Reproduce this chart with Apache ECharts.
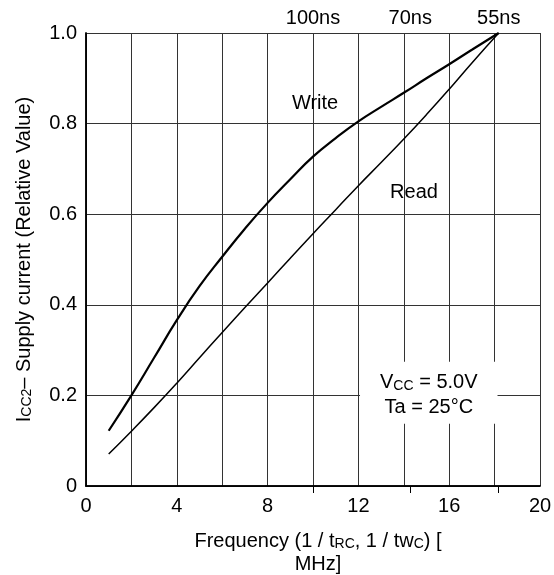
<!DOCTYPE html>
<html>
<head>
<meta charset="utf-8">
<script src="https://cdn.jsdelivr.net/npm/echarts@6/dist/echarts.min.js"></script>
<style>
html,body{margin:0;padding:0;background:#fff;}
#chart{width:554px;height:575px;}
</style>
</head>
<body>
<div id="chart"></div>
<script>
// Frequency (MHz)
const freq = [1, 2, 3, 4, 5, 6, 7, 8, 9, 10, 11, 12, 13, 14, 15, 16, 17, 18.18];
// Write curve (relative Icc2)
const writeVals = [0.122, 0.200, 0.283, 0.366, 0.441, 0.506, 0.568, 0.625, 0.677, 0.727, 0.768, 0.805, 0.837, 0.868, 0.900, 0.931, 0.963, 1.0];
// Read curve (relative Icc2)
const readVals = [0.0706, 0.121, 0.173, 0.227, 0.283, 0.339, 0.394, 0.448, 0.503, 0.557, 0.610, 0.663, 0.714, 0.766, 0.820, 0.876, 0.934, 1.0];
// Top axis: cycle times
const cycleNs = [100, 70, 55];
const cycleLabels = ['100ns', '70ns', '55ns'];
// Tick labels
const xTickLabels = [0, 4, 8, 12, 16, 20];
const yTickLabels = ['0', '0.2', '0.4', '0.6', '0.8', '1.0'];

const FONT = '"Liberation Sans", Arial, Helvetica, sans-serif';
const topVals = cycleNs.map(ns => 1000 / ns);

const rich = {
  n: { fontSize: 20, fontFamily: FONT, color: '#000', verticalAlign: 'bottom', textBorderWidth: 0 },
  s: { fontSize: 14, fontFamily: FONT, color: '#000', verticalAlign: 'bottom', textBorderWidth: 0 }
};

const chart = echarts.init(document.getElementById('chart'), null, { renderer: 'canvas' });

const option = {
  animation: false,
  backgroundColor: '#fff',
  grid: { left: 86, top: 33, right: 14, bottom: 89, show: false, containLabel: false, outerBoundsMode: 'none' },
  xAxis: [
    {
      type: 'value', position: 'bottom', min: 0, max: 20, interval: 2,
      axisLine: { show: true, lineStyle: { color: '#000', width: 1.5 } },
      axisTick: { show: false },
      splitLine: { show: true, lineStyle: { color: '#333', width: 1 } },
      axisLabel: {
        fontSize: 20, fontFamily: FONT, color: '#000', margin: 10,
        formatter: v => (xTickLabels.indexOf(v) >= 0 ? String(v) : '')
      },
      name: '{n|Frequency (1 / t}{s|RC}{n|, 1 / tw}{s|C}{n|) [}\n{n|MHz]}',
      nameLocation: 'middle', nameGap: 42,
      nameTextStyle: { rich: rich, lineHeight: 23, padding: [0, 0, 0, 10] }
    },
    {
      type: 'value', position: 'top', min: 0, max: 20,
      axisLine: { show: true, lineStyle: { color: '#000', width: 1.5 } },
      axisTick: { show: true, inside: true, length: 7, customValues: topVals, lineStyle: { color: '#000' } },
      splitLine: { show: false },
      axisLabel: {
        show: true, customValues: topVals, fontSize: 20, fontFamily: FONT, color: '#000', margin: 5,
        formatter: v => {
          for (let i = 0; i < topVals.length; i++) if (Math.abs(v - topVals[i]) < 1e-6) return cycleLabels[i];
          return '';
        }
      }
    }
  ],
  yAxis: [
    {
      type: 'value', min: 0, max: 1, interval: 0.2,
      axisLine: { show: true, lineStyle: { color: '#000', width: 1.5 } },
      axisTick: { show: false },
      splitLine: { show: true, lineStyle: { color: '#333', width: 1 } },
      axisLabel: {
        fontSize: 20, fontFamily: FONT, color: '#000', margin: 9,
        formatter: v => yTickLabels[Math.round(v / 0.2)]
      },
      name: '{n|I}{s|CC2}{n|– Supply current (Relative Value)}',
      nameLocation: 'middle', nameGap: 52, nameRotate: 90,
      nameTextStyle: { rich: rich }
    },
    {
      type: 'value', position: 'right', min: 0, max: 1, interval: 0.2,
      axisLine: { show: true, lineStyle: { color: '#000', width: 1.5 } },
      axisTick: { show: false }, axisLabel: { show: false }, splitLine: { show: false }
    }
  ],
  series: [
    {
      name: 'Write', type: 'line', smooth: 0.5, symbol: 'none', xAxisIndex: 0, yAxisIndex: 0,
      lineStyle: { color: '#000', width: 2.2 },
      data: freq.map((f, i) => [f, writeVals[i]]), z: 5
    },
    {
      name: 'Read', type: 'line', smooth: 0.5, symbol: 'none', xAxisIndex: 0, yAxisIndex: 0,
      lineStyle: { color: '#000', width: 1.5 },
      data: freq.map((f, i) => [f, readVals[i]]), z: 5
    },
    {
      type: 'scatter', symbolSize: 0, xAxisIndex: 0, yAxisIndex: 0, silent: true, z: 6,
      itemStyle: { color: '#000' },
      label: { show: true, position: 'inside', color: '#000', textBorderWidth: 0, opacity: 1, rich: rich },
      data: [
        { value: [10.09, 0.845], label: { formatter: '{n|Write}' } },
        { value: [14.45, 0.649], label: { formatter: '{n|Read}' } },
        { value: [15.1, 0.206], label: {
            formatter: '{n|V}{s|CC}{n| = 5.0V}\n{n|Ta = 25°C}',
            backgroundColor: '#fff', padding: [6, 20, 6, 20], lineHeight: 25, align: 'center'
          } }
      ]
    }
  ]
};
chart.setOption(option);
</script>
</body>
</html>
